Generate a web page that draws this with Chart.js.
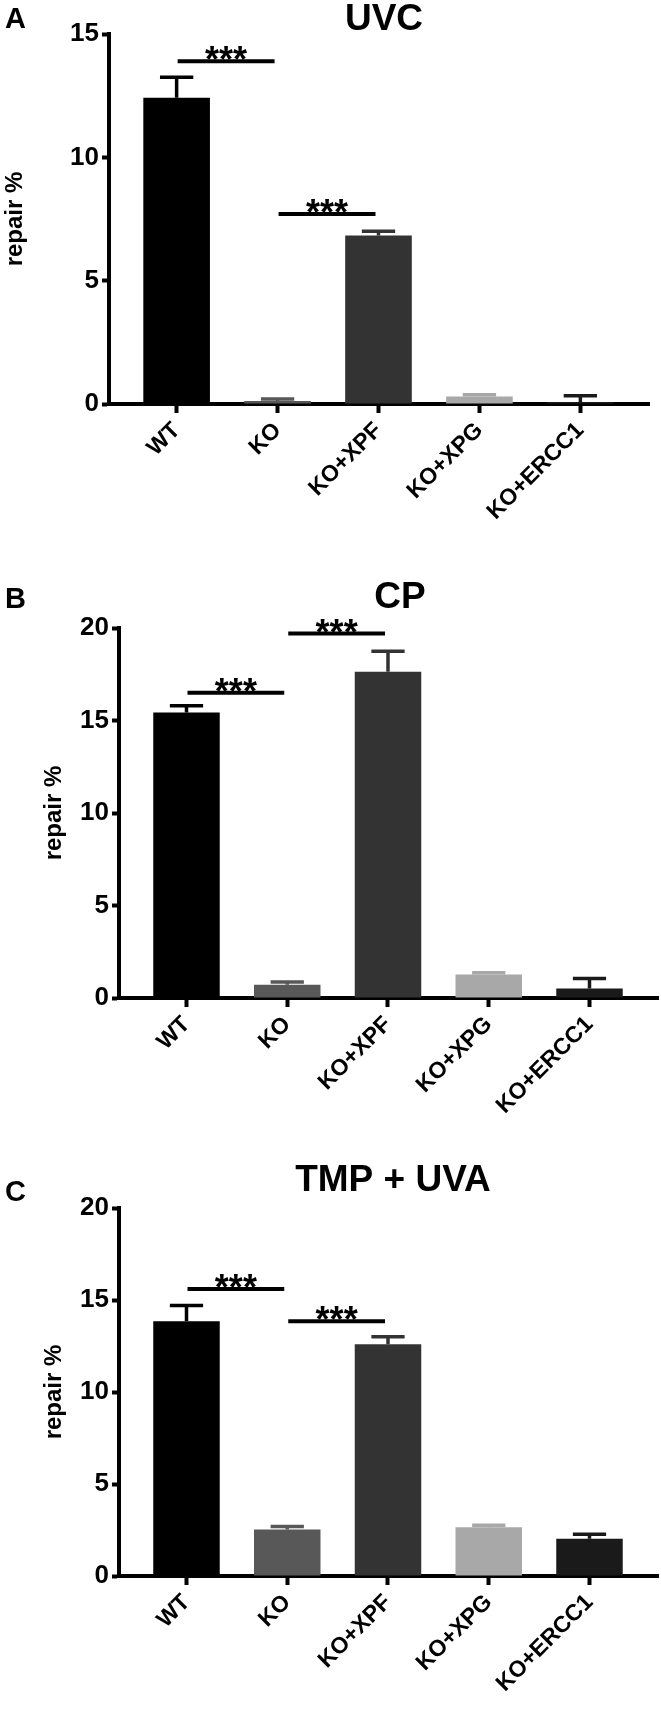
<!DOCTYPE html>
<html>
<head>
<meta charset="utf-8">
<script src="https://cdn.jsdelivr.net/npm/chart.js@4.4.1/dist/chart.umd.min.js"></script>
<style>
  html, body { margin: 0; padding: 0; background: #fff; }
  #wrap { position: relative; width: 661px; height: 1710px; }
  canvas { position: absolute; left: 0; }
</style>
</head>
<body>
<div id="wrap">
  <canvas id="chartA" width="661" height="545" style="top:0px"></canvas>
  <canvas id="chartB" width="661" height="575" style="top:560px"></canvas>
  <canvas id="chartC" width="661" height="575" style="top:1135px"></canvas>
</div>
<script>
// groups on the x axis
const categories = ['WT', 'KO', 'KO+XPF', 'KO+XPG', 'KO+ERCC1'];
const barColors = ['#000000', '#585858', '#333333', '#a8a8a8', '#1a1a1a'];

// A - UVC
const uvcRepair = [12.42, 0.12, 6.83, 0.30, 0.08];
const uvcError = [0.83, 0.08, 0.17, 0.07, 0.25];
const uvcSig = [[0, 1, 13.9], [1, 2, 7.7]];   // [from, to, level]
const uvcTicks = [0, 5, 10, 15];

// B - CP
const cpRepair = [15.43, 0.72, 17.63, 1.27, 0.51];
const cpError = [0.37, 0.15, 1.12, 0.09, 0.54];
const cpSig = [[0, 1, 16.5], [1, 2, 19.7]];
const cpTicks = [0, 5, 10, 15, 20];

// C - TMP + UVA
const tmpRepair = [13.85, 2.53, 12.59, 2.65, 2.02];
const tmpError = [0.85, 0.16, 0.41, 0.11, 0.25];
const tmpSig = [[0, 1, 15.6], [1, 2, 13.85]];
const tmpTicks = [0, 5, 10, 15, 20];

const FONT = '"Liberation Sans", Arial, Helvetica, sans-serif';
Chart.defaults.font.family = FONT;
Chart.defaults.color = '#000';

// error bars, significance lines, panel letter and title
const panelDecor = {
    id: 'panelDecor',
    afterDatasetsDraw(chart, args, o) {
        const ctx = chart.ctx;
        const xs = chart.scales.x, ys = chart.scales.y;
        const meta = chart.getDatasetMeta(0);
        ctx.save();
        ctx.lineCap = 'butt';
        meta.data.forEach((bar, i) => {
            const yTop = ys.getPixelForValue(o.values[i] + o.errors[i]);
            const half = bar.width / 4;
            ctx.strokeStyle = barColors[i];
            ctx.lineWidth = 3.5;
            ctx.beginPath();
            ctx.moveTo(bar.x, bar.y);
            ctx.lineTo(bar.x, yTop);
            ctx.moveTo(bar.x - half, yTop);
            ctx.lineTo(bar.x + half, yTop);
            ctx.stroke();
        });
        ctx.strokeStyle = '#000';
        ctx.fillStyle = '#000';
        ctx.lineWidth = 4;
        ctx.textAlign = 'center';
        ctx.textBaseline = 'alphabetic';
        ctx.font = 'bold 36px ' + FONT;
        o.sig.forEach(s => {
            const x1 = xs.getPixelForValue(s[0]) + 1;
            const x2 = xs.getPixelForValue(s[1]) - 3;
            const y = ys.getPixelForValue(s[2]);
            ctx.beginPath();
            ctx.moveTo(x1, y);
            ctx.lineTo(x2, y);
            ctx.stroke();
            ctx.fillText('***', (x1 + x2) / 2, y + 11);
        });
        ctx.font = 'bold 37px ' + FONT;
        ctx.fillText(o.title, o.titleX, o.titleY);
        ctx.textAlign = 'left';
        ctx.font = 'bold 29px ' + FONT;
        ctx.fillText(o.letter, 5, o.letterY);
        ctx.restore();
    }
};

function makeChart(id, p) {
    const canvas = document.getElementById(id);
    const H = canvas.height;
    return new Chart(canvas, {
        type: 'bar',
        data: {
            datasets: [{
                data: p.values.map((v, i) => ({ x: i, y: v })),
                backgroundColor: barColors,
                borderWidth: 0,
                categoryPercentage: 0.66,
                barPercentage: 1
            }]
        },
        options: {
            responsive: false,
            animation: false,
            devicePixelRatio: 1,
            layout: { padding: { top: p.top, left: 0, right: 661 - p.axisEnd, bottom: 0 } },
            plugins: {
                legend: { display: false },
                tooltip: { enabled: false },
                panelDecor: p
            },
            scales: {
                x: {
                    type: 'linear',
                    min: -0.67,
                    max: 4.68,
                    offset: false,
                    afterBuildTicks: s => { s.ticks = categories.map((c, i) => ({ value: i })); },
                    afterFit: s => { s.height = H - p.bottom; },
                    ticks: {
                        callback: v => categories[v],
                        autoSkip: false,
                        minRotation: 45,
                        maxRotation: 45,
                        padding: 4,
                        color: '#000',
                        font: { size: 23, weight: 'bold' }
                    },
                    grid: { drawOnChartArea: false, offset: false, tickLength: 9, tickWidth: 4, tickColor: '#000' },
                    border: { display: true, width: 4, color: '#000' }
                },
                y: {
                    min: 0,
                    max: p.ticks[p.ticks.length - 1],
                    afterBuildTicks: s => { s.ticks = p.ticks.map(v => ({ value: v })); },
                    afterFit: s => { s.width = p.axisX; },
                    ticks: {
                        padding: 3,
                        color: '#000',
                        font: { size: 26, weight: 'bold' }
                    },
                    grid: { drawOnChartArea: false, tickLength: 7, tickWidth: 4, tickColor: '#000' },
                    border: { display: true, width: 4, color: '#000' },
                    title: {
                        display: true,
                        text: 'repair %',
                        color: '#000',
                        font: { size: 24, weight: 'bold' },
                        padding: { top: p.labelPad, bottom: 0 }
                    }
                }
            }
        },
        plugins: [panelDecor]
    });
}

makeChart('chartA', {
    letter: 'A', title: 'UVC', values: uvcRepair, errors: uvcError, sig: uvcSig, ticks: uvcTicks,
    axisX: 109, axisEnd: 649, top: 34, bottom: 404, labelPad: 1, letterY: 28, titleY: 30, titleX: 384
});
makeChart('chartB', {
    letter: 'B', title: 'CP', values: cpRepair, errors: cpError, sig: cpSig, ticks: cpTicks,
    axisX: 119, axisEnd: 658, top: 68, bottom: 438, labelPad: 40, letterY: 48, titleY: 48, titleX: 400
});
makeChart('chartC', {
    letter: 'C', title: 'TMP + UVA', values: tmpRepair, errors: tmpError, sig: tmpSig, ticks: tmpTicks,
    axisX: 119, axisEnd: 658, top: 73, bottom: 441, labelPad: 40, letterY: 66, titleY: 56, titleX: 393
});
</script>
</body>
</html>
